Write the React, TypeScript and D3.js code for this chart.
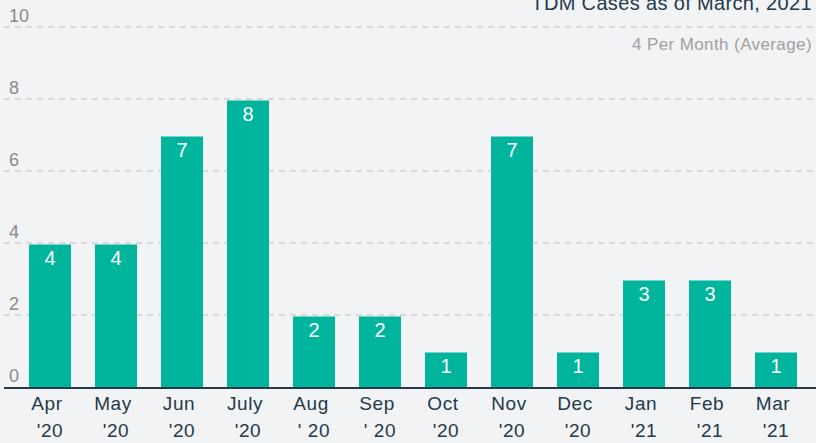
import React from "react";
import * as d3 from "d3";

const months = ["Apr", "May", "Jun", "July", "Aug", "Sep", "Oct", "Nov", "Dec", "Jan", "Feb", "Mar"];
const years = ["'20", "'20", "'20", "'20", "' 20", "' 20", "'20", "'20", "'20", "'21", "'21", "'21"];
const cases = [4, 4, 7, 8, 2, 2, 1, 7, 1, 3, 3, 1];
const yTicks = [0, 2, 4, 6, 8, 10];
const title = "TDM Cases as of March, 2021";
const subtitle = "4 Per Month (Average)";

const W = 816;
const H = 443;
const FONT = "'Liberation Sans', Arial, Helvetica, sans-serif";

export default function App() {
  const x = d3
    .scaleBand<string>()
    .domain(months)
    .range([17, 809])
    .paddingInner(24 / 66)
    .paddingOuter(12 / 66);
  const y = d3.scaleLinear().domain([0, 10]).range([387, 27]);

  return (
    <svg
      width={W}
      height={H}
      style={{ position: "absolute", left: 0, top: 0, background: "#f2f3f5" }}
      fontFamily={FONT}
    >
      <rect x={0} y={0} width={W} height={H} fill="#f2f3f5" />
      {yTicks.filter((t) => t > 0).map((t) => (
        <line
          key={"g" + t}
          x1={4}
          x2={W}
          y1={y(t)}
          y2={y(t)}
          stroke="#bdbdbd"
          strokeWidth={1.2}
          strokeDasharray="6 5"
        />
      ))}
      {yTicks.map((t) => (
        <text key={"t" + t} x={9} y={y(t) - 5} fontSize={18} fill="#8a8a8a">
          {t}
        </text>
      ))}
      {cases.map((v, i) => (
        <g key={"b" + i}>
          <rect
            x={x(months[i])!}
            y={y(v) + 1.5}
            width={x.bandwidth()}
            height={y(0) - y(v) - 1.5}
            fill="#00b59c"
          />
          <text
            x={x(months[i])! + x.bandwidth() / 2}
            y={y(v) + 21.5}
            fontSize={20}
            fill="#ffffff"
            textAnchor="middle"
          >
            {v}
          </text>
        </g>
      ))}
      <line x1={4} x2={W} y1={388} y2={388} stroke="#24394a" strokeWidth={2} />
      {months.map((m, i) => (
        <g key={"x" + i}>
          <text
            x={x(m)! + x.bandwidth() / 2 - 3}
            y={410}
            fontSize={19}
            letterSpacing={0.6}
            fill="#24394a"
            textAnchor="middle"
          >
            {m}
          </text>
          <text
            x={x(m)! + x.bandwidth() / 2}
            y={437}
            fontSize={19}
            letterSpacing={0.6}
            fill="#24394a"
            textAnchor="middle"
          >
            {years[i]}
          </text>
        </g>
      ))}
      <text x={812} y={10} fontSize={20} letterSpacing={0.35} fill="#24394a" textAnchor="end">
        {title}
      </text>
      <text x={812} y={50} fontSize={17} letterSpacing={0.4} fill="#a0a0a0" textAnchor="end">
        {subtitle}
      </text>
    </svg>
  );
}
